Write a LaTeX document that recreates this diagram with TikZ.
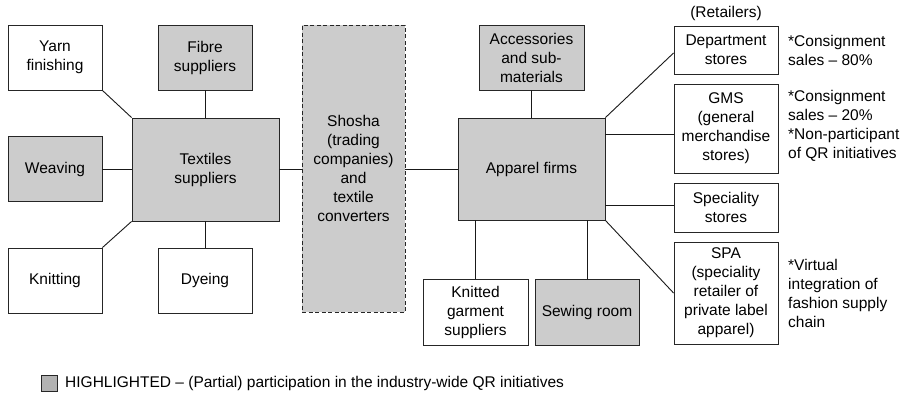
\documentclass[tikz,border=0pt]{standalone}
\usepackage{fontspec}
\setmainfont{Liberation Sans}
\usetikzlibrary{calc}
\newcommand{\myfs}{\fontsize{15.5pt}{19pt}\selectfont}
\begin{document}
\begin{tikzpicture}[x=1pt,y=-1pt,
  box/.style={draw=black!85, line width=0.9pt, align=center, inner sep=0pt, font=\myfs},
  hl/.style={box, fill=black!20},
  ln/.style={draw=black!90, line width=0.9pt},
  ann/.style={align=left, anchor=west, inner sep=0pt, font=\myfs}]
\useasboundingbox (0,0) rectangle (909,394);
% left cluster
\node[box, minimum width=94, minimum height=65] (yarn) at (55,57.5) {Yarn\\finishing};
\node[hl, minimum width=94, minimum height=65] (fibre) at (205,57.5) {Fibre\\suppliers};
\node[hl, minimum width=147, minimum height=103] (tex) at (205.5,169.5) {Textiles\\suppliers};
\node[hl, minimum width=94, minimum height=65] (weav) at (55,169) {Weaving};
\node[box, minimum width=94, minimum height=65] (knit) at (55,280.5) {Knitting};
\node[box, minimum width=94, minimum height=65] (dye) at (205,280.5) {Dyeing};
% shosha
\node[hl, dash pattern=on 4pt off 2.5pt, minimum width=103, minimum height=287] (sho) at (353.5,168.5) {Shosha\\(trading\\companies)\\and\\textile\\converters};
% apparel cluster
\node[hl, minimum width=105, minimum height=65] (acc) at (531.5,57.5) {Accessories\\and sub-\\materials};
\node[hl, minimum width=147, minimum height=102] (app) at (531.5,169) {Apparel firms};
\node[box, minimum width=105, minimum height=66] (kg) at (475.5,312) {Knitted\\garment\\suppliers};
\node[hl, minimum width=104, minimum height=66] (sew) at (587,312) {Sewing room};
% retailers
\node[font=\myfs, inner sep=0pt] (ret) at (726,13) {(Retailers)};
\node[box, minimum width=104, minimum height=48] (dept) at (726,50) {Department\\stores};
\node[box, minimum width=104, minimum height=89] (gms) at (726,128.5) {GMS\\(general\\merchandise\\stores)};
\node[box, minimum width=104, minimum height=49] (spec) at (726,207.5) {Speciality\\stores};
\node[box, minimum width=104, minimum height=102] (spa) at (726,293) {SPA\\(speciality\\retailer of\\private label\\apparel)};
% annotations
\node[ann] (a1) at (788,50) {*Consignment\\sales – 80\%};
\node[ann] (a2) at (788,126) {*Consignment\\sales – 20\%\\*Non-participant\\of QR initiatives};
\node[ann] (a3) at (788,293) {*Virtual\\integration of\\fashion supply\\chain};
% connectors
\draw[ln] (yarn.south east) -- (tex.north west);
\draw[ln] (fibre.south) -- (fibre.south |- tex.north);
\draw[ln] (weav.east) -- (weav.east -| tex.west);
\draw[ln] (knit.north east) -- (tex.south west);
\draw[ln] (dye.north) -- (dye.north |- tex.south);
\draw[ln] (sho.west |- weav.east) -- (weav.east -| tex.east);
\draw[ln] (sho.east |- weav.east) -- (weav.east -| app.west);
\draw[ln] (acc.south) -- (acc.south |- app.north);
\draw[ln] (app.north east) -- ($(dept.west)+(0,3)$);
\coordinate (g1) at ($(gms.west)+(0,5.5)$);
\draw[ln] (g1) -- (g1 -| app.east);
\coordinate (s1) at ($(spec.west)+(0,-2.5)$);
\draw[ln] (s1) -- (s1 -| app.east);
\draw[ln] (app.south east) -- (spa.west);
\draw[ln] (kg.north) -- (kg.north |- app.south);
\draw[ln] (sew.north) -- (sew.north |- app.south);
% legend
\node[draw=black!85, line width=0.9pt, fill=black!30, minimum size=16, inner sep=0pt] (lg) at (49,383) {};
\node[anchor=west, inner sep=0pt, font=\myfs] (lgt) at (65,383) {HIGHLIGHTED – (Partial) participation in the industry-wide QR initiatives};
\end{tikzpicture}
\end{document}
